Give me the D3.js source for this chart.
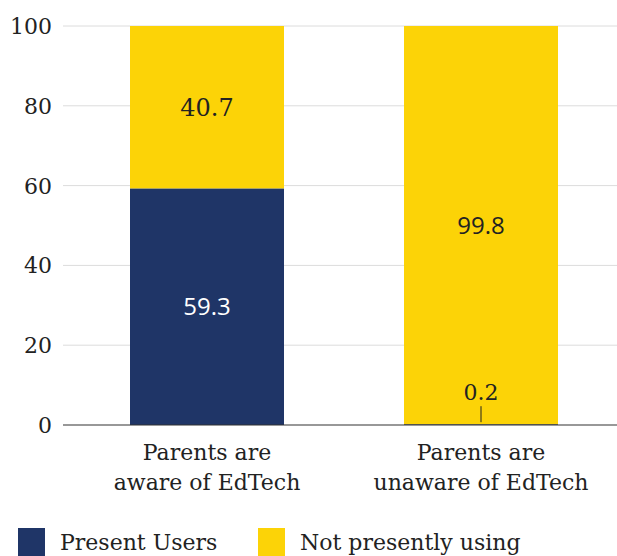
<!DOCTYPE html>
<html>
<head>
<meta charset="utf-8">
<script src="https://cdn.jsdelivr.net/npm/d3@7"></script>
<style>
  html, body { margin: 0; padding: 0; background: #fff; }
  svg { display: block; }
  .serif { font-family: "DejaVu Serif", "Liberation Serif", serif; }
  .sans { font-family: "Open Sans", "Noto Sans", sans-serif; }
</style>
</head>
<body>
<svg id="chart" width="617" height="556"></svg>
<script>
// Share of parents using EdTech, by awareness
const categories = [["Parents are", "aware of EdTech"], ["Parents are", "unaware of EdTech"]];
const seriesNames = ["Present Users", "Not presently using"];
const presentUsers = [59.3, 0.2];
const notPresentlyUsing = [40.7, 99.8];
const yTicks = [0, 20, 40, 60, 80, 100];
const colors = ["#1f3567", "#fcd307"];

const svg = d3.select("#chart");
const plot = { left: 63, right: 617, top: 26, bottom: 425 };

const x = d3.scaleBand()
  .domain(d3.range(categories.length))
  .range([70, 618])
  .paddingInner(0.438)
  .paddingOuter(0.219);

const y = d3.scaleLinear().domain([0, 100]).range([plot.bottom, plot.top]);

// gridlines
svg.append("g")
  .selectAll("line")
  .data(yTicks.filter(d => d > 0))
  .join("line")
  .attr("x1", plot.left).attr("x2", plot.right)
  .attr("y1", d => y(d)).attr("y2", d => y(d))
  .attr("stroke", "#dcdcdc").attr("stroke-width", 1);

// y tick labels
svg.append("g")
  .selectAll("text")
  .data(yTicks)
  .join("text")
  .attr("class", "serif")
  .attr("x", 52)
  .attr("y", d => y(d))
  .attr("dy", "0.36em")
  .attr("text-anchor", "end")
  .attr("font-size", 22)
  .attr("fill", "#222")
  .text(d => d);

// stacked bars
const rows = categories.map((c, i) => ({ i, present: presentUsers[i], notUsing: notPresentlyUsing[i] }));
const stack = d3.stack().keys(["present", "notUsing"]);
const layers = stack(rows);

svg.append("g")
  .selectAll("g")
  .data(layers)
  .join("g")
  .attr("fill", (d, k) => colors[k])
  .selectAll("rect")
  .data(d => d)
  .join("rect")
  .attr("x", d => x(d.data.i))
  .attr("width", x.bandwidth())
  .attr("y", d => y(d[1]))
  .attr("height", d => y(d[0]) - y(d[1]));

// baseline
svg.append("line")
  .attr("x1", plot.left).attr("x2", plot.right)
  .attr("y1", y(0)).attr("y2", y(0))
  .attr("stroke", "#333").attr("stroke-width", 1.2);

// value labels
const labels = [
  { i: 0, v: presentUsers[0], mid: presentUsers[0] / 2, cls: "sans", fill: "#fff" },
  { i: 0, v: notPresentlyUsing[0], mid: presentUsers[0] + notPresentlyUsing[0] / 2, cls: "serif", fill: "#222" },
  { i: 1, v: notPresentlyUsing[1], mid: presentUsers[1] + notPresentlyUsing[1] / 2, cls: "sans", fill: "#222" }
];
svg.append("g")
  .selectAll("text")
  .data(labels)
  .join("text")
  .attr("class", d => d.cls)
  .attr("x", d => x(d.i) + x.bandwidth() / 2)
  .attr("y", d => y(d.mid))
  .attr("dy", "0.36em")
  .attr("text-anchor", "middle")
  .attr("font-size", 24)
  .attr("fill", d => d.fill)
  .text(d => d.v.toFixed(1));

// small segment label with leader line
const cx2 = x(1) + x.bandwidth() / 2;
svg.append("line")
  .attr("x1", cx2).attr("x2", cx2)
  .attr("y1", y(presentUsers[1]) - 2).attr("y2", y(presentUsers[1]) - 18)
  .attr("stroke", "#222").attr("stroke-width", 1);
svg.append("text")
  .attr("class", "serif")
  .attr("x", cx2)
  .attr("y", y(presentUsers[1]) - 24)
  .attr("text-anchor", "middle")
  .attr("font-size", 22)
  .attr("fill", "#222")
  .text(presentUsers[1].toFixed(1));

// category labels
svg.append("g")
  .selectAll("text")
  .data(categories)
  .join("text")
  .attr("class", "serif")
  .attr("x", (d, i) => x(i) + x.bandwidth() / 2)
  .attr("y", 460)
  .attr("text-anchor", "middle")
  .attr("font-size", 22)
  .attr("fill", "#222")
  .selectAll("tspan")
  .data(d => d)
  .join("tspan")
  .attr("x", function () { return this.parentNode.getAttribute("x"); })
  .attr("dy", (d, k) => k === 0 ? 0 : 30)
  .text(d => d);

// legend
const legendX = [18, 258];
const lg = svg.append("g")
  .selectAll("g")
  .data(seriesNames)
  .join("g")
  .attr("transform", (d, k) => `translate(${legendX[k]},528)`);
lg.append("rect").attr("width", 27).attr("height", 28).attr("fill", (d, k) => colors[k]);
lg.append("text")
  .attr("class", "serif")
  .attr("x", 42)
  .attr("y", 22)
  .attr("font-size", 22)
  .attr("fill", "#222")
  .text(d => d);
</script>
</body>
</html>
